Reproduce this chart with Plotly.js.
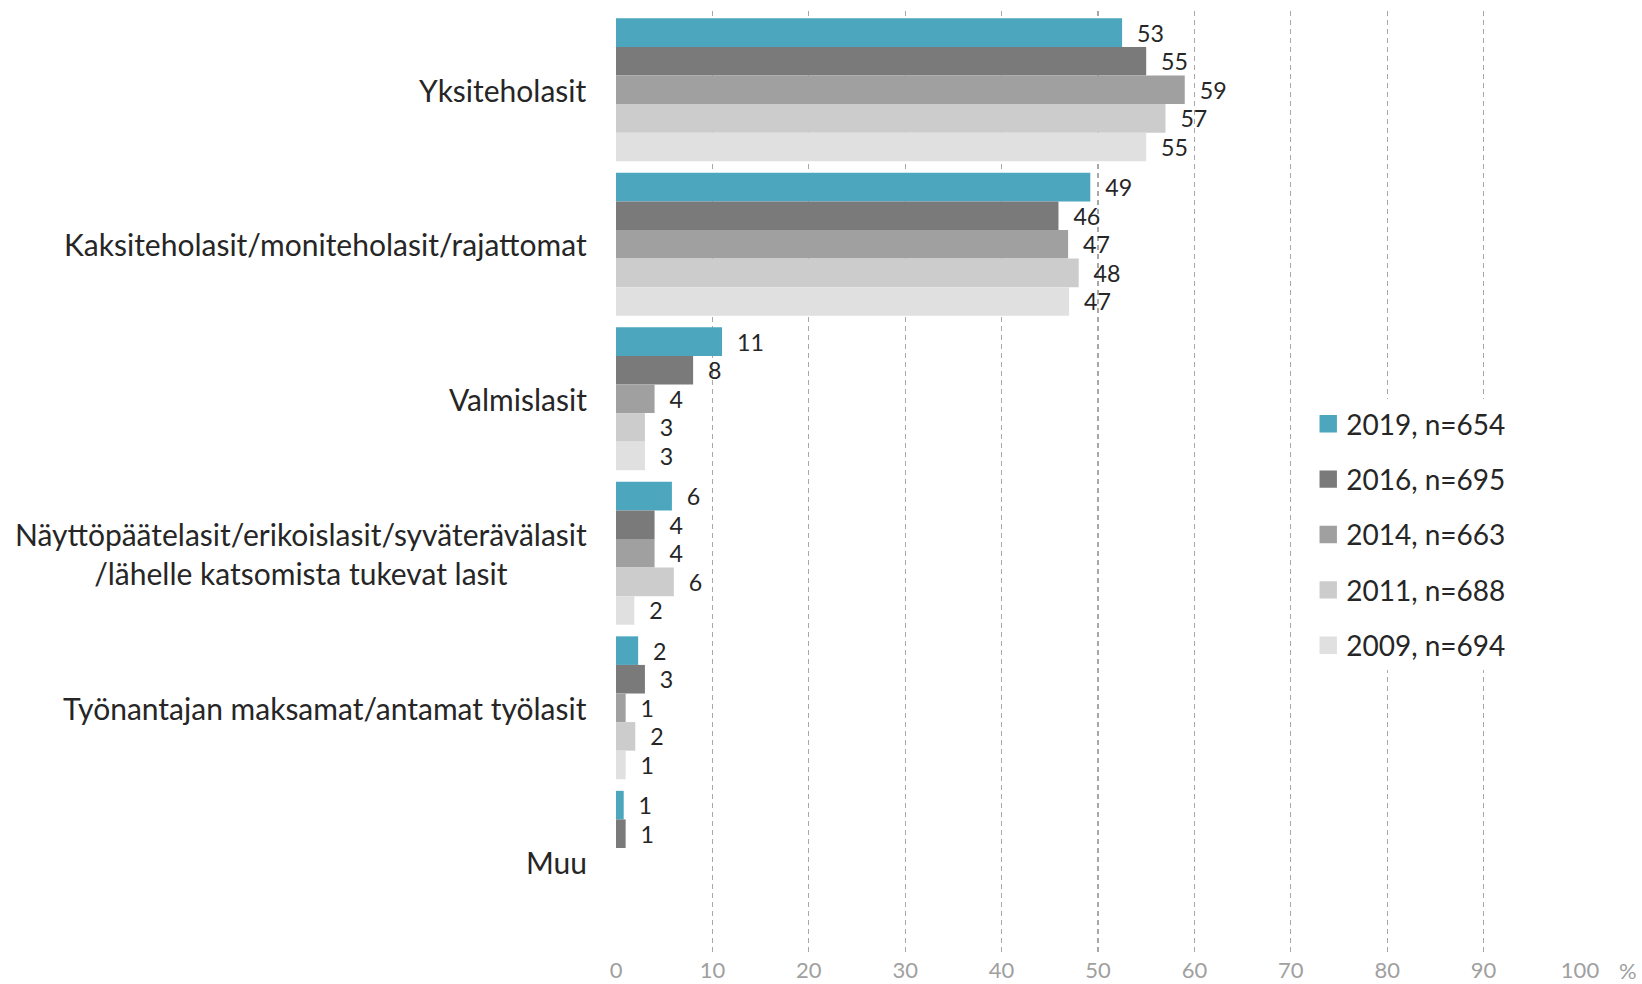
<!DOCTYPE html>
<html>
<head>
<meta charset="utf-8">
<script src="https://cdn.plot.ly/plotly-3.0.1.min.js"></script>
<style>html,body{margin:0;padding:0;background:#fff;}#chart{width:1642px;height:984px;}</style>
</head>
<body>
<div id="chart"></div>
<script>
const categories = [
  "Yksiteholasit",
  "Kaksiteholasit/moniteholasit/rajattomat",
  "Valmislasit",
  "Näyttöpäätelasit/erikoislasit/syväterävälasit<br>/lähelle katsomista tukevat lasit",
  "Työnantajan maksamat/antamat työlasit",
  "Muu"
];
const seriesNames = ["2019, n=654", "2016, n=695", "2014, n=663", "2011, n=688", "2009, n=694"];
const v2019 = [52.5, 49.2, 11.0, 5.8, 2.3, 0.8];
const v2016 = [55.0, 45.9, 8.0, 4.0, 3.0, 1.0];
const v2014 = [59.0, 46.9, 4.0, 4.0, 1.0, null];
const v2011 = [57.0, 48.0, 3.0, 6.0, 2.0, null];
const v2009 = [55.0, 47.0, 3.0, 1.9, 1.0, null];
const labels2019 = [53, 49, 11, 6, 2, 1];
const labels2016 = [55, 46, 8, 4, 3, 1];
const labels2014 = [59, 47, 4, 4, 1, null];
const labels2011 = [57, 48, 3, 6, 2, null];
const labels2009 = [55, 47, 3, 2, 1, null];
const xTicks = [0, 10, 20, 30, 40, 50, 60, 70, 80, 90, 100];

const colors = ["#4BA6BE", "#7A7A7A", "#A0A0A0", "#CCCCCC", "#E0E0E0"];
const values = [v2019, v2016, v2014, v2011, v2009];
const labels = [labels2019, labels2016, labels2014, labels2011, labels2009];
const FONT = "Lato, 'Open Sans', sans-serif";

const traces = values.map((vals, i) => ({
  type: 'bar',
  orientation: 'h',
  name: seriesNames[i],
  legendgroup: 'g' + i,
  y: categories,
  x: vals,
  text: labels[i].map(l => l === null ? '' : '\u00a0\u00a0' + l),
  texttemplate: '%{text}',
  textposition: 'outside',
  cliponaxis: false,
  textfont: {family: FONT, size: 26, color: '#262626'},
  marker: {color: colors[i], line: {width: 0}},
  hoverinfo: 'x+name'
}));

const annotations = categories.map(c => ({
  xref: 'paper', yref: 'y',
  x: -0.028, y: c,
  xanchor: 'right', yanchor: 'middle',
  align: 'center',
  text: c,
  showarrow: false,
  font: {family: FONT, size: 30, color: '#262626'}
}));
annotations.push({
  xref: 'paper', yref: 'paper',
  x: 1.05, y: -0.016,
  xanchor: 'center', yanchor: 'middle',
  text: '%', showarrow: false,
  font: {family: FONT, size: 22, color: '#A0A0A0'}
});

const layout = {
  width: 1642, height: 984,
  margin: {l: 616, r: 62, t: 10.5, b: 29, pad: 0},
  paper_bgcolor: '#fff', plot_bgcolor: '#fff',
  barmode: 'group',
  bargap: 0.075,
  bargroupgap: 0,
  font: {family: FONT, color: '#262626'},
  xaxis: {
    range: [0, 100],
    tickvals: xTicks,
    ticktext: xTicks.map(String),
    showgrid: true,
    gridcolor: '#A8A8A8',
    gridwidth: 1.3,
    griddash: '5px,4px',
    zeroline: false,
    showline: false,
    ticks: '',
    ticklabelstandoff: 0,
    tickfont: {family: FONT, size: 22, color: '#A0A0A0'},
    fixedrange: true
  },
  yaxis: {
    type: 'category',
    categoryorder: 'array',
    categoryarray: categories,
    range: [5.6, -0.51],
    showticklabels: false,
    showgrid: false,
    zeroline: false,
    showline: false,
    ticks: '',
    fixedrange: true
  },
  legend: {
    x: 0.716, y: 0.589,
    xanchor: 'left', yanchor: 'top',
    bgcolor: '#ffffff',
    font: {family: FONT, size: 28, color: '#262626'},
    tracegroupgap: 16,
    itemwidth: 30
  },
  showlegend: true,
  annotations: annotations
};

Plotly.newPlot('chart', traces, layout, {displayModeBar: false, staticPlot: true}).then(gd => {
  gd.querySelectorAll('.legend .legendpoints path').forEach(p => {
    p.setAttribute('transform', 'translate(22,0) scale(1.45)');
  });
});
</script>
</body>
</html>
